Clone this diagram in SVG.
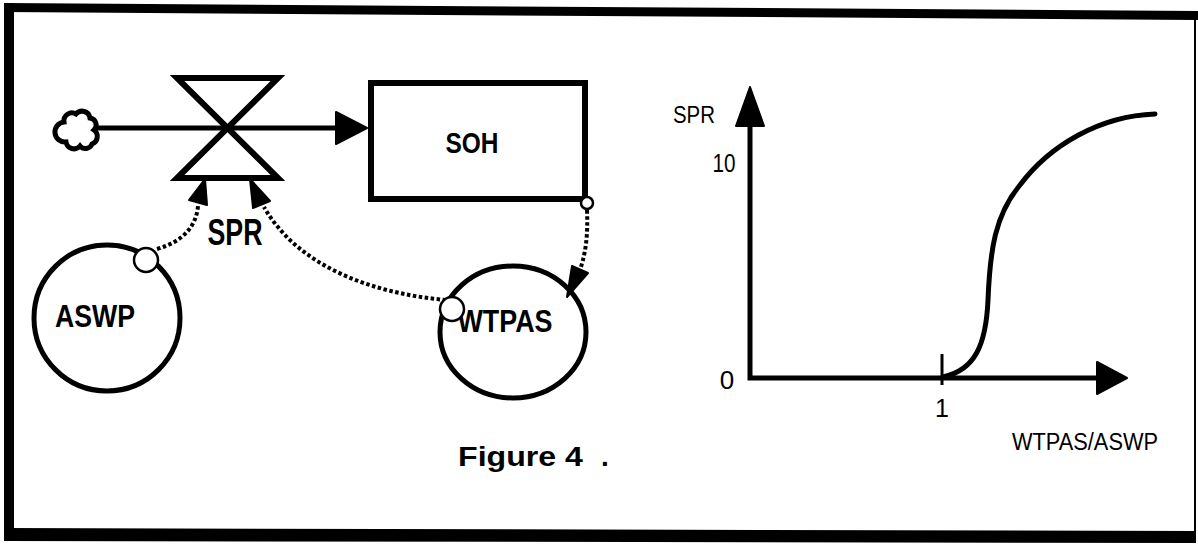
<svg xmlns="http://www.w3.org/2000/svg" width="1198" height="546" viewBox="0 0 1198 546">
<style>
.lbl{font-family:"Liberation Sans",Arial,sans-serif;font-weight:bold;fill:#000}
.ax{font-family:"Liberation Sans",Arial,sans-serif;fill:#000}
.ln{fill:none;stroke:#000;stroke-width:5}
.dot{fill:none;stroke:#000;stroke-width:4;stroke-dasharray:3.5 2.5}
.ah{fill:#000;stroke:#000;stroke-width:2;stroke-linejoin:round}
.sc{fill:#fff;stroke:#000;stroke-width:2.5}
</style>
<rect x="0" y="0" width="1198" height="546" fill="#fff"/>
<g id="frame">
<polygon points="4,3 1198,11 1198,20 4,12" fill="#000"/>
<rect x="4" y="3" width="10" height="538" fill="#000"/>
<polygon points="4,528 1196,531 1196,543 4,541" fill="#000"/>
<line x1="1195" y1="15" x2="1195" y2="535" stroke="#000" stroke-width="2"/>
</g>
<g id="cloud">
<path d="M64,122 a8,8 0 0 1 12,-8 a8,8 0 0 1 14,4 a7,7 0 0 1 4,12 a8,8 0 0 1 -2,14 a7,7 0 0 1 -12,2 a8,8 0 0 1 -14,-4 a7,7 0 0 1 -2,-20 z" fill="#fff" stroke="#000" stroke-width="5"/>
</g>
<g id="connectors">
<line class="ln" x1="96" y1="128" x2="340" y2="128"/>
<polygon class="ah" points="336,112 367,128 336,144"/>
<path class="dot" d="M157,249 Q195,238 198,206"/>
<polygon class="ah" points="205,179 207,205 189,200"/>
<path class="dot" d="M458,301 C380,296 300,270 264,207"/>
<polygon class="ah" points="250,179 270,201 253,208"/>
<path class="dot" d="M587,210 C588,235 586,252 580,270"/>
<polygon class="ah" points="567,297 588,273 572,266"/>
</g>
<g id="valve-SPR">
<path d="M177,78 H278 L177,178 H278 Z" fill="none" stroke="#000" stroke-width="6" stroke-linejoin="miter"/>
<text class="lbl" x="235" y="245" font-size="36" text-anchor="middle" textLength="55" lengthAdjust="spacingAndGlyphs">SPR</text>
</g>
<g id="stock-SOH">
<rect x="371" y="83" width="214" height="116" fill="#fff" stroke="#000" stroke-width="6"/>
<text class="lbl" x="472" y="153" font-size="30" text-anchor="middle" textLength="53" lengthAdjust="spacingAndGlyphs">SOH</text>
<circle class="sc" cx="587" cy="203" r="6"/>
</g>
<g id="aux-ASWP">
<circle cx="107" cy="318" r="73" fill="none" stroke="#000" stroke-width="5"/>
<text class="lbl" x="95" y="327" font-size="32" text-anchor="middle" textLength="80" lengthAdjust="spacingAndGlyphs">ASWP</text>
<circle class="sc" cx="146" cy="260" r="12"/>
</g>
<g id="aux-WTPAS">
<ellipse cx="513" cy="332" rx="73" ry="66" fill="none" stroke="#000" stroke-width="5"/>
<text class="lbl" x="505" y="332" font-size="32" text-anchor="middle" textLength="95" lengthAdjust="spacingAndGlyphs">WTPAS</text>
<circle class="sc" cx="452" cy="309" r="12"/>
</g>
<g id="chart">
<path d="M750,122 V378 H1100" fill="none" stroke="#000" stroke-width="5" stroke-linejoin="miter"/>
<polygon class="ah" points="750,87 736,126 764,126"/>
<polygon class="ah" points="1127,378 1097,362 1097,394"/>
<line x1="942" y1="354" x2="942" y2="385" stroke="#000" stroke-width="3"/>
<path d="M943,377 C975,370 986,345 988,300 C990,250 995,215 1020,185 C1050,145 1100,116 1155,114" fill="none" stroke="#000" stroke-width="5" stroke-linecap="round"/>
<text class="ax" x="694" y="123" font-size="24" text-anchor="middle" textLength="42" lengthAdjust="spacingAndGlyphs">SPR</text>
<text class="ax" x="724" y="172" font-size="25" text-anchor="middle" textLength="23" lengthAdjust="spacingAndGlyphs">10</text>
<text class="ax" x="727" y="389" font-size="26" text-anchor="middle">0</text>
<text class="ax" x="942" y="417" font-size="25" text-anchor="middle">1</text>
<text class="ax" x="1012" y="450" font-size="23" textLength="146" lengthAdjust="spacingAndGlyphs">WTPAS/ASWP</text>
</g>
<g id="caption">
<text class="lbl" x="458" y="466" font-size="28"><tspan textLength="125" lengthAdjust="spacingAndGlyphs">Figure 4</tspan><tspan x="601">.</tspan></text>
</g>
</svg>
